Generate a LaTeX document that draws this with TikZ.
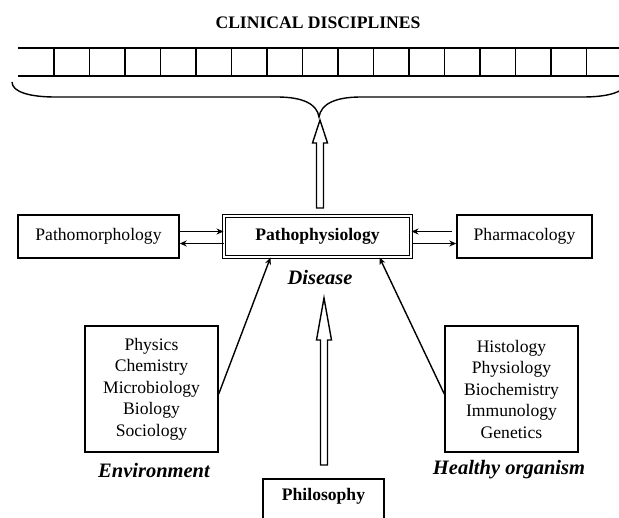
\documentclass[tikz,border=0pt]{standalone}
\usepackage{fontspec}
\setmainfont{Liberation Serif}
\usetikzlibrary{arrows.meta}

\tikzset{
  box/.style={draw, line width=1.4pt, inner sep=0pt, align=center, font=\fontsize{17.6}{21.5}\selectfont},
  boldbox/.style={box, font=\fontsize{17.6}{21.5}\selectfont\bfseries},
  tag/.style={inner sep=1pt, font=\fontsize{20.5}{24}\selectfont\bfseries\itshape},
  link/.style={line width=1.4pt, -{Stealth[length=7pt,width=6pt]}},
  hollow/.style={draw, line width=1.4pt, fill=white, line join=miter},
}

% hollow arrow: foot, tip, head length
\newcommand{\hollowarrow}[3]{%
  \draw[hollow] ([xshift=-3.5pt]#1) -- ([xshift=-3.5pt,yshift=-#3]#2)
    -- ([xshift=-7.5pt,yshift=-#3]#2) -- (#2) -- ([xshift=7.5pt,yshift=-#3]#2)
    -- ([xshift=3.5pt,yshift=-#3]#2) -- ([xshift=3.5pt]#1) -- cycle;}

\begin{document}
\begin{tikzpicture}[x=1pt, y=-1pt]
  \useasboundingbox (0,0) rectangle (619,518);

  % Row of clinical disciplines.
  \node[font=\fontsize{17.6}{20}\selectfont\bfseries] (title) at (318,23) {CLINICAL DISCIPLINES};
  \draw[line width=1.4pt] (18,48) -- (619,48);
  \draw[line width=1.4pt] (18,76) -- (619,76);
  \foreach \k in {0,...,15}
    \draw[line width=1.4pt] (54+35.5*\k,48) -- (54+35.5*\k,76);

  % Brace under the row.
  \draw[line width=1.4pt] (12,82) .. controls (12,92) and (30,97) .. (55,97) -- (277,97)
    .. controls (303,97) and (317,104) .. (319,117)
    .. controls (321,104) and (335,97) .. (361,97) -- (583,97)
    .. controls (608,97) and (626,92) .. (626,82);

  % Middle row.
  \node[boldbox, double, double distance=1.6pt, line width=1.4pt,
        minimum width=186.6pt, minimum height=40.6pt] (patho) at (317.5,236.5) {Pathophysiology};
  \node[box, minimum width=161pt, minimum height=43pt] (morph) at (98.5,236.5) {Pathomorphology};
  \node[box, minimum width=135pt, minimum height=43pt] (pharm) at (524.5,236.5) {Pharmacology};
  \node[tag] (disease) at (320,277) {Disease};

  \draw[link] ([yshift=5pt]morph.east) -- ([yshift=5pt]patho.west);
  \draw[link] ([yshift=-7pt]patho.west) -- ([yshift=-7pt]morph.east);
  \draw[link, shorten <=4pt] ([yshift=5pt]pharm.west) -- ([yshift=5pt]patho.east);
  \draw[link] ([yshift=-7pt]patho.east) -- ([yshift=-7pt]pharm.west);

  % Lower row.
  \node[box, minimum width=133pt, minimum height=126pt] (env) at (151.5,389)
    {Physics\\Chemistry\\Microbiology\\Biology\\Sociology};
  \node[box, minimum width=133pt, minimum height=126pt] (organism) at (511.5,389)
    {Histology\\Physiology\\Biochemistry\\Immunology\\Genetics};
  \node[tag] (envtag) at (154,470) {Environment};
  \node[tag] (organismtag) at (509,470) {Healthy organism};
  \node[boldbox, minimum width=121pt, minimum height=46pt, text height=12pt,
        text depth=14pt] (philo) at (323.5,502) {Philosophy};

  \draw[link] ([yshift=-5pt]env.east) -- ([xshift=-47pt]patho.south);
  \draw[link] ([yshift=-5pt]organism.west) -- ([xshift=62pt]patho.south);

  % Hollow arrows.
  \coordinate (uptip) at (320,120);
  \coordinate (upfoot) at (320,208);
  \hollowarrow{upfoot}{uptip}{23pt}
  \coordinate (distip) at (324,298);
  \coordinate (disfoot) at (324,465);
  \hollowarrow{disfoot}{distip}{42pt}

\end{tikzpicture}
\end{document}
